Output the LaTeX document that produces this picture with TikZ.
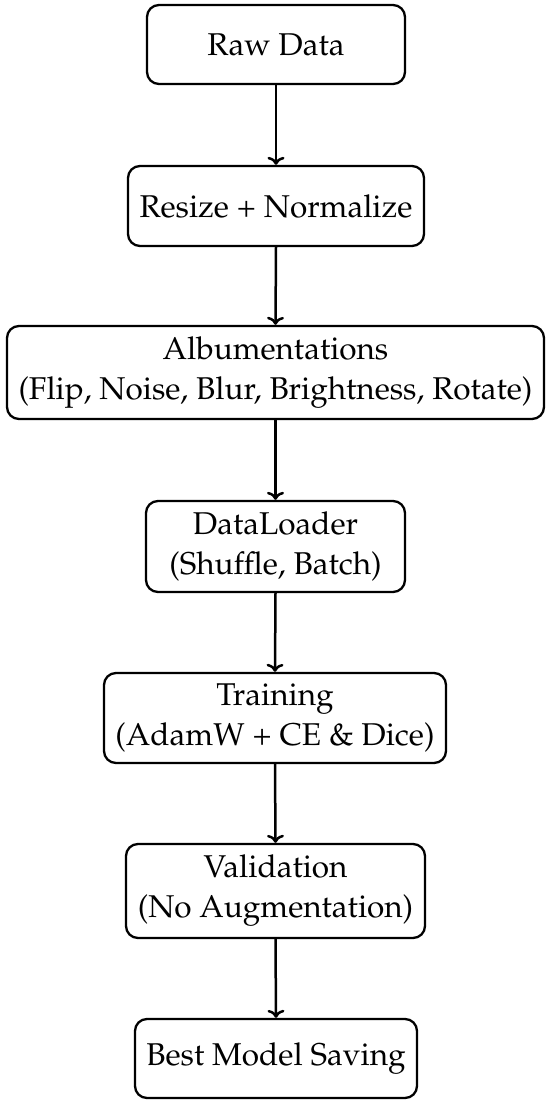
\documentclass[tikz,border=0pt]{standalone}
\usepackage[T1]{fontenc}
\usepackage{mathpazo}
\usetikzlibrary{arrows.meta}
\begin{document}
\begin{tikzpicture}[x=1pt,y=-1pt,
  stepbox/.style={draw=black, line width=2.3pt, rounded corners=12pt, align=center,
    inner sep=0pt, font=\fontsize{31.5}{40}\selectfont, text=black},
  flow/.style={draw=black, line width=2.5pt, -{To[length=8pt,width=17pt,line width=2.5pt]}}]
\useasboundingbox (0,0) rectangle (550,1104);
\node[stepbox, minimum width=258pt, minimum height=79pt] (raw) at (276,44.5) {Raw Data};
\node[stepbox, minimum width=296pt, minimum height=80pt] (res) at (276,206) {Resize + Normalize};
\node[stepbox, minimum width=537pt, minimum height=93pt] (alb) at (275.5,372.5) {Albumentations\\(Flip, Noise, Blur, Brightness, Rotate)};
\node[stepbox, minimum width=259pt, minimum height=91pt] (dl) at (275.5,546.5) {DataLoader\\(Shuffle, Batch)};
\node[stepbox, minimum width=342pt, minimum height=90pt] (tr) at (275,718) {Training\\(AdamW + CE \& Dice)};
\node[stepbox, minimum width=299pt, minimum height=94pt] (val) at (275.5,891) {Validation\\(No Augmentation)};
\node[stepbox, minimum width=282pt, minimum height=79pt] (best) at (276,1058.5) {Best Model Saving};
\draw[flow] (raw.south) -- (res.north);
\draw[flow] (res.south) -- (alb.north);
\draw[flow] (alb.south) -- (dl.north);
\draw[flow] (dl.south) -- (tr.north);
\draw[flow] (tr.south) -- (val.north);
\draw[flow] (val.south) -- (best.north);
\end{tikzpicture}
\end{document}
